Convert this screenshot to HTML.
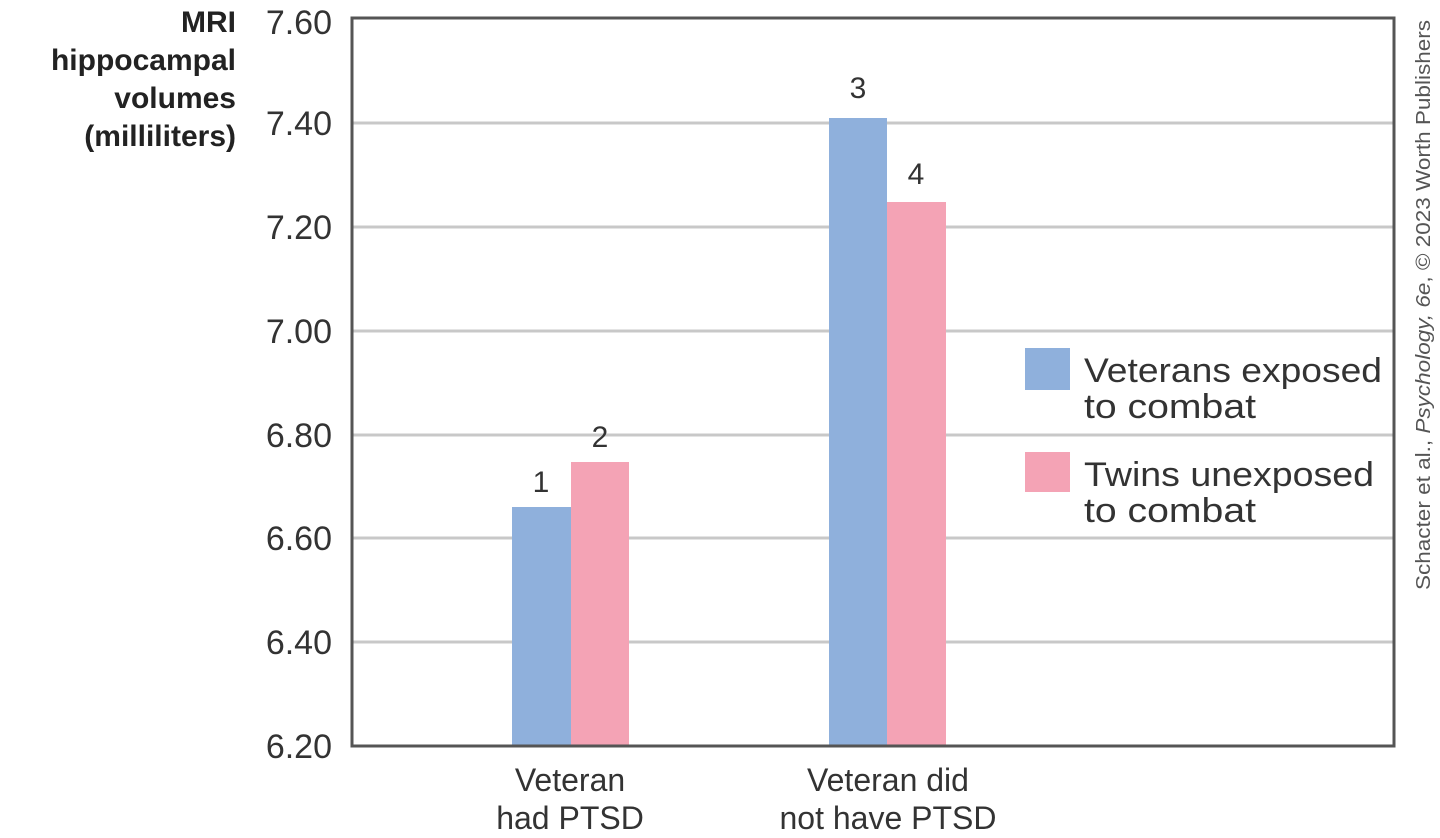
<!DOCTYPE html>
<html><head><meta charset="utf-8"><style>
body{margin:0;background:#fff;}
svg{display:block;font-family:"Liberation Sans",sans-serif;}
</style></head><body>
<svg width="1440" height="838" viewBox="0 0 1440 838">
<g stroke="#c8c8c8" stroke-width="3">
<line x1="352" y1="123" x2="1394" y2="123"/>
<line x1="352" y1="227" x2="1394" y2="227"/>
<line x1="352" y1="331" x2="1394" y2="331"/>
<line x1="352" y1="435" x2="1394" y2="435"/>
<line x1="352" y1="538" x2="1394" y2="538"/>
<line x1="352" y1="642" x2="1394" y2="642"/>
</g>
<rect x="512" y="507" width="59" height="239" fill="#8fb0dc"/>
<rect x="571" y="462" width="58" height="284" fill="#f4a3b5"/>
<rect x="829" y="118" width="58" height="628" fill="#8fb0dc"/>
<rect x="887" y="202" width="59" height="544" fill="#f4a3b5"/>
<rect x="352" y="18" width="1042" height="728" fill="none" stroke="#555" stroke-width="3"/>
<g font-size="34" fill="#333" text-anchor="end">
<text x="332" y="34">7.60</text>
<text x="332" y="135">7.40</text>
<text x="332" y="239">7.20</text>
<text x="332" y="343">7.00</text>
<text x="332" y="447">6.80</text>
<text x="332" y="550">6.60</text>
<text x="332" y="654">6.40</text>
<text x="332" y="758">6.20</text>
</g>
<g font-size="30" font-weight="bold" fill="#222" text-anchor="end">
<text x="236" y="32">MRI</text>
<text x="236" y="70">hippocampal</text>
<text x="236" y="108">volumes</text>
<text x="236" y="146">(milliliters)</text>
</g>
<g font-size="30" fill="#333" text-anchor="middle">
<text x="541" y="492">1</text>
<text x="600" y="447">2</text>
<text x="858" y="98">3</text>
<text x="916" y="184">4</text>
</g>
<g font-size="32" fill="#333" text-anchor="middle">
<text x="570" y="791">Veteran</text>
<text x="570" y="829">had PTSD</text>
<text x="888" y="791">Veteran did</text>
<text x="888" y="829">not have PTSD</text>
</g>
<rect x="1025" y="348" width="45" height="42" fill="#8fb0dc"/>
<rect x="1025" y="452" width="45" height="40" fill="#f4a3b5"/>
<g font-size="34" fill="#333">
<text x="1084" y="382" textLength="298" lengthAdjust="spacingAndGlyphs">Veterans exposed</text>
<text x="1084" y="418" textLength="172" lengthAdjust="spacingAndGlyphs">to combat</text>
<text x="1084" y="486" textLength="290" lengthAdjust="spacingAndGlyphs">Twins unexposed</text>
<text x="1084" y="522" textLength="172" lengthAdjust="spacingAndGlyphs">to combat</text>
</g>
<text transform="translate(1430,590) rotate(-90)" font-size="20" fill="#555" textLength="570" lengthAdjust="spacingAndGlyphs">Schacter et al., <tspan font-style="italic">Psychology, 6e</tspan>, © 2023 Worth Publishers</text>
</svg>
</body></html>
